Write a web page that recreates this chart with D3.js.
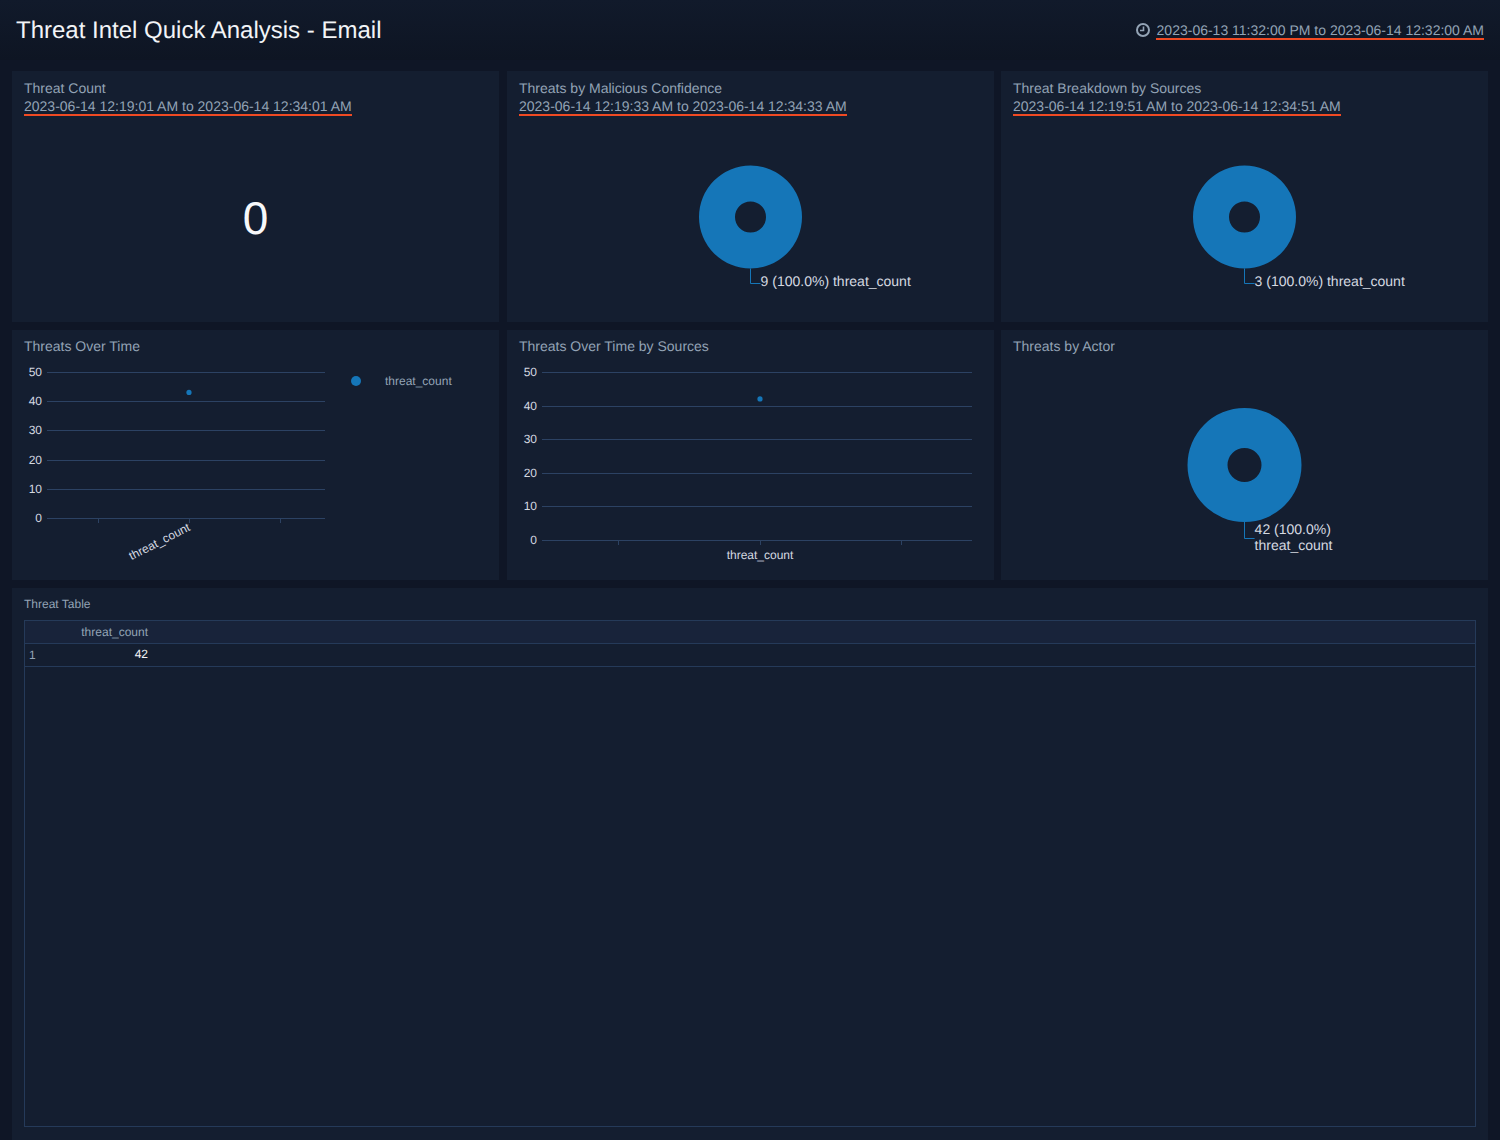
<!DOCTYPE html>
<html><head><meta charset="utf-8">
<script src="https://cdn.jsdelivr.net/npm/d3@7"></script>
<style>
html,body{margin:0;padding:0;background:#0f1626;overflow:hidden}
svg{display:block}
text{font-family:"Liberation Sans",Arial,sans-serif;text-rendering:geometricPrecision}
</style></head><body><svg id="c" width="1500" height="1140"></svg>
<script>
const pageTitle="Threat Intel Quick Analysis - Email";
const pageRange="2023-06-13 11:32:00 PM to 2023-06-14 12:32:00 AM";
const panelTitles=["Threat Count","Threats by Malicious Confidence","Threat Breakdown by Sources","Threats Over Time","Threats Over Time by Sources","Threats by Actor","Threat Table"];
const panelRanges=["2023-06-14 12:19:01 AM to 2023-06-14 12:34:01 AM","2023-06-14 12:19:33 AM to 2023-06-14 12:34:33 AM","2023-06-14 12:19:51 AM to 2023-06-14 12:34:51 AM"];
const seriesName="threat_count";
const threatCount=[0];
const confidenceValues=[9];
const sourceValues=[3];
const actorValues=[42];
const overTimeValues=[43];
const bySourceValues=[42];
const yTicks=[0,10,20,30,40,50];
const tableRows=[42];

const BLUE="#1576b8",GRID="#2c4263",TITLE="#93a3b5",LABEL="#d4d9e0",PANEL="#141e30";
const svg=d3.select("#c");
const bg=svg.append("defs").append("linearGradient").attr("id","bgG").attr("x1",0).attr("y1",0).attr("x2",0).attr("y2",1);
bg.append("stop").attr("offset",0).attr("stop-color","#111a2b");
bg.append("stop").attr("offset",1).attr("stop-color","#0e1523");
svg.append("rect").attr("width",1500).attr("height",1140).attr("fill","#0f1626");
svg.append("rect").attr("width",1500).attr("height",60).attr("fill","url(#bgG)");

svg.append("text").attr("x",16).attr("y",38).attr("font-size",24).attr("fill","#f2f4f7").text(pageTitle);
svg.append("text").attr("x",1484).attr("y",35).attr("text-anchor","end").attr("font-size",14).attr("fill",TITLE).text(pageRange);
svg.append("rect").attr("x",1156).attr("y",38).attr("width",328).attr("height",2).attr("fill","#f04a23");
const clock=svg.append("g").attr("transform","translate(1143,30)");
clock.append("circle").attr("r",6).attr("fill","none").attr("stroke",TITLE).attr("stroke-width",2);
clock.append("path").attr("d","M0.5,-3.5V0.5H-3").attr("fill","none").attr("stroke",TITLE).attr("stroke-width",1.6);

const panels=[[12,71,487,251],[507,71,487,251],[1001,71,487,251],[12,330,487,250],[507,330,487,250],[1001,330,487,250],[12,588,1476,552]];
panels.forEach((p,i)=>{
  svg.append("rect").attr("x",p[0]).attr("y",p[1]).attr("width",p[2]).attr("height",p[3]).attr("fill",PANEL);
  svg.append("text").attr("x",p[0]+12).attr("y",p[1]+(i==6?20:(i<3?22:21))).attr("font-size",i==6?12:14).attr("fill",TITLE).text(panelTitles[i]);
  if(i<3){
    svg.append("text").attr("x",p[0]+12).attr("y",p[1]+40).attr("font-size",14).attr("fill",TITLE).text(panelRanges[i]);
    svg.append("rect").attr("x",p[0]+12).attr("y",p[1]+43).attr("width",328).attr("height",2).attr("fill","#f04a23");
  }
});

svg.append("text").attr("x",255.5).attr("y",234).attr("text-anchor","middle").attr("font-size",46).attr("fill","#f7f8fa").text(threatCount[0]);

function donut(vals,cx,cy,R,r,lines,lx,elbowY,textY){
  const g=svg.append("g").attr("transform",`translate(${cx},${cy})`);
  const pie=d3.pie().sort(null)(vals);
  g.selectAll("path").data(pie).join("path").attr("d",d3.arc().innerRadius(r).outerRadius(R)).attr("fill",BLUE);
  svg.append("path").attr("d",`M${cx},${cy+R}V${elbowY+.5}H${lx}`).attr("fill","none").attr("stroke",BLUE).attr("stroke-width",1);
  lines.forEach((t,i)=>svg.append("text").attr("x",lx).attr("y",textY+i*16).attr("font-size",14).attr("fill",LABEL).text(t));
}
const pct=v=>`${v} (100.0%)`;
donut(confidenceValues,750.5,217,51.5,15.5,[pct(confidenceValues[0])+" "+seriesName],760.6,283,286);
donut(sourceValues,1244.5,217,51.5,15.5,[pct(sourceValues[0])+" "+seriesName],1254.6,283,286);
donut(actorValues,1244.5,465,57,17,[pct(actorValues[0]),seriesName],1254.6,538,534);

function scatter(vals,x0,x1,yTop,yBot,ticksX,dotX,r,rotate){
  const y=d3.scaleLinear().domain([0,50]).range([yBot,yTop]);
  const x=d3.scaleLinear().domain([x0,x1]).range([x0,x1]);
  yTicks.forEach(t=>{
    svg.append("line").attr("x1",x0).attr("x2",x1).attr("y1",Math.round(y(t))+.5).attr("y2",Math.round(y(t))+.5).attr("stroke",GRID);
    svg.append("text").attr("x",x0-5).attr("y",y(t)+4).attr("text-anchor","end").attr("font-size",12).attr("fill",LABEL).text(t);
  });
  ticksX.forEach(t=>svg.append("line").attr("x1",t+.5).attr("x2",t+.5).attr("y1",Math.round(yBot)+.5).attr("y2",Math.round(yBot)+5).attr("stroke",GRID));
  svg.selectAll(null).data(vals).join("circle").attr("class","pt").attr("cx",x(dotX)).attr("cy",d=>y(d)).attr("r",r).attr("fill",BLUE);
  const mid=ticksX[1];
  if(rotate){
    svg.append("text").attr("transform",`translate(${mid+2},${yBot+12}) rotate(-27)`).attr("text-anchor","end").attr("font-size",12).attr("fill",LABEL).text(seriesName);
  }else{
    svg.append("text").attr("x",mid).attr("y",yBot+19).attr("text-anchor","middle").attr("font-size",12).attr("fill",LABEL).text(seriesName);
  }
}
scatter(overTimeValues,47,325,372,518,[98,189,280],189,2.6,true);
scatter(bySourceValues,542,972,372,540,[618,760,901],760,2.6,false);

svg.append("circle").attr("cx",356).attr("cy",381).attr("r",5).attr("fill",BLUE);
svg.append("text").attr("x",385).attr("y",385).attr("font-size",12).attr("fill",TITLE).text(seriesName);

const TB="#253a59";
svg.append("rect").attr("x",24.5).attr("y",620.5).attr("width",1451).attr("height",506).attr("fill","none").attr("stroke",TB);
svg.append("rect").attr("x",25).attr("y",621).attr("width",1450).attr("height",22).attr("fill","#18233a");
svg.append("line").attr("x1",25).attr("x2",1475).attr("y1",643.5).attr("y2",643.5).attr("stroke",TB);
svg.append("line").attr("x1",25).attr("x2",1475).attr("y1",666.5).attr("y2",666.5).attr("stroke",TB);
svg.append("text").attr("x",148).attr("y",636).attr("text-anchor","end").attr("font-size",12).attr("fill",TITLE).text(seriesName);
tableRows.forEach((v,i)=>{
  svg.append("text").attr("x",29).attr("y",659+i*23).attr("font-size",12).attr("fill",TITLE).text(i+1);
  svg.append("text").attr("x",148).attr("y",658+i*23).attr("text-anchor","end").attr("font-size",12).attr("fill","#f2f4f7").text(v);
});
</script></body></html>
